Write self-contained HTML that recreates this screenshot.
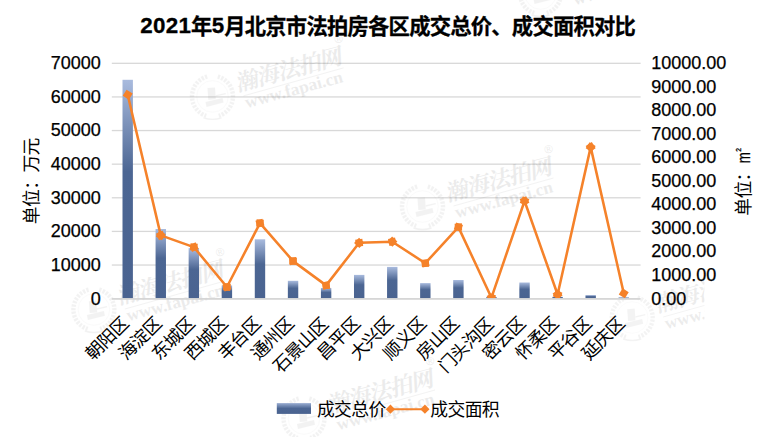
<!DOCTYPE html>
<html lang="zh-CN">
<head>
<meta charset="utf-8">
<title>2021年5月北京市法拍房各区成交总价、成交面积对比</title>
<style>
html,body{margin:0;padding:0;background:#fff;font-family:"Liberation Sans",sans-serif;}
body{width:776px;height:437px;overflow:hidden;}
svg{display:block;}
.ax{font-family:"Liberation Sans",sans-serif;font-size:18px;fill:#000;stroke:#000;stroke-width:0.25;stroke-linejoin:round;}
.cj{font-family:"Liberation Sans","Noto Sans CJK SC",sans-serif;font-size:17.8px;fill:#000;letter-spacing:-0.6px;}
.wmc{font-family:"Liberation Serif","Noto Serif CJK SC",serif;font-size:22.6px;font-weight:bold;fill:#000;letter-spacing:-0.9px;}
.wmr{font-family:"Liberation Sans",sans-serif;font-size:11.5px;fill:#000;}
.wmu{font-family:"Liberation Serif",serif;font-size:17.4px;font-weight:bold;fill:#000;}
</style>
</head>
<body>
<svg width="776" height="437" viewBox="0 0 776 437" role="img" aria-label="2021年5月北京市法拍房各区成交总价、成交面积对比">
<desc>2021年5月北京市法拍房各区成交总价、成交面积对比 — 单位:万元 / 单位:㎡ — 成交总价 成交面积 — 朝阳区 海淀区 东城区 西城区 丰台区 通州区 石景山区 昌平区 大兴区 顺义区 房山区 门头沟区 密云区 怀柔区 平谷区 延庆区</desc>
<defs>
<linearGradient id="bg" x1="0" y1="0" x2="0" y2="1">
<stop offset="0" stop-color="#A9BBDE"/><stop offset="0.42" stop-color="#4C6693"/><stop offset="1" stop-color="#4A6390"/>
</linearGradient>
<linearGradient id="bg2" x1="0" y1="0" x2="0" y2="1">
<stop offset="0" stop-color="#9AADD2"/><stop offset="0.5" stop-color="#4C6693"/><stop offset="1" stop-color="#4A6390"/>
</linearGradient>
<clipPath id="pc"><rect x="0" y="0" width="776" height="298.8"/></clipPath>
<clipPath id="wc"><rect x="0" y="0" width="704.5" height="437"/></clipPath>
</defs>
<rect width="776" height="437" fill="#fff"/>
<rect x="111.8" y="264.38" width="528.8" height="1.3" fill="#D8D8D8"/>
<rect x="111.8" y="230.76" width="528.8" height="1.3" fill="#D8D8D8"/>
<rect x="111.8" y="197.14" width="528.8" height="1.3" fill="#D8D8D8"/>
<rect x="111.8" y="163.52" width="528.8" height="1.3" fill="#D8D8D8"/>
<rect x="111.8" y="129.9" width="528.8" height="1.3" fill="#D8D8D8"/>
<rect x="111.8" y="96.28" width="528.8" height="1.3" fill="#D8D8D8"/>
<rect x="111.8" y="62.66" width="528.8" height="1.3" fill="#D8D8D8"/>
<g clip-path="url(#wc)">
<g transform="translate(212.5 96.4)" opacity="0.074"><g opacity="0.6"><path d="M-5.3 -19.8A20.5 20.5 0 0 0 -6.3 19.5" fill="none" stroke="#000" stroke-width="4.4" stroke-dasharray="2.3 1.3"/><path d="M5.3 -19.8A20.5 20.5 0 0 1 6.3 19.5" fill="none" stroke="#000" stroke-width="4.4" stroke-dasharray="2.3 1.3"/><path d="M-9 21.5Q0 24.5 9 21.5" fill="none" stroke="#000" stroke-width="1.4"/><circle r="15.8" fill="none" stroke="#000" stroke-width="0.6" opacity="0.6"/><rect x="-4.4" y="-8.7" width="7.5" height="11.8" fill="#000" transform="rotate(-4)"/><path d="M3 -1.2L13 -3.4L13.3 -2.2L3.2 0.2Z" fill="#000"/><path d="M-7 5.6L10 1.6L11 6.2L-6 10.6Z" fill="#000"/></g><g transform="translate(25.5 -5) rotate(-15) skewX(-12)"><text class="wmc" x="-0.45" y="0">瀚海法拍网</text></g><g transform="translate(123.1 -52.6) rotate(-15)"><text class="wmr" x="0" y="0">®</text></g><path d="M31 -0.5L131 -28.5" stroke="#000" stroke-width="0.6"/><g transform="translate(34.3 11.8) rotate(-15.2)"><text class="wmu" x="0" y="0">www.fapai.cn</text></g></g>
<g transform="translate(422.5 206.5)" opacity="0.074"><g opacity="0.6"><path d="M-5.3 -19.8A20.5 20.5 0 0 0 -6.3 19.5" fill="none" stroke="#000" stroke-width="4.4" stroke-dasharray="2.3 1.3"/><path d="M5.3 -19.8A20.5 20.5 0 0 1 6.3 19.5" fill="none" stroke="#000" stroke-width="4.4" stroke-dasharray="2.3 1.3"/><path d="M-9 21.5Q0 24.5 9 21.5" fill="none" stroke="#000" stroke-width="1.4"/><circle r="15.8" fill="none" stroke="#000" stroke-width="0.6" opacity="0.6"/><rect x="-4.4" y="-8.7" width="7.5" height="11.8" fill="#000" transform="rotate(-4)"/><path d="M3 -1.2L13 -3.4L13.3 -2.2L3.2 0.2Z" fill="#000"/><path d="M-7 5.6L10 1.6L11 6.2L-6 10.6Z" fill="#000"/></g><g transform="translate(25.5 -5) rotate(-15) skewX(-12)"><text class="wmc" x="-0.45" y="0">瀚海法拍网</text></g><g transform="translate(123.1 -52.6) rotate(-15)"><text class="wmr" x="0" y="0">®</text></g><path d="M31 -0.5L131 -28.5" stroke="#000" stroke-width="0.6"/><g transform="translate(34.3 11.8) rotate(-15.2)"><text class="wmu" x="0" y="0">www.fapai.cn</text></g></g>
<g transform="translate(632.2 317.5)" opacity="0.074"><g opacity="0.6"><path d="M-5.3 -19.8A20.5 20.5 0 0 0 -6.3 19.5" fill="none" stroke="#000" stroke-width="4.4" stroke-dasharray="2.3 1.3"/><path d="M5.3 -19.8A20.5 20.5 0 0 1 6.3 19.5" fill="none" stroke="#000" stroke-width="4.4" stroke-dasharray="2.3 1.3"/><path d="M-9 21.5Q0 24.5 9 21.5" fill="none" stroke="#000" stroke-width="1.4"/><circle r="15.8" fill="none" stroke="#000" stroke-width="0.6" opacity="0.6"/><rect x="-4.4" y="-8.7" width="7.5" height="11.8" fill="#000" transform="rotate(-4)"/><path d="M3 -1.2L13 -3.4L13.3 -2.2L3.2 0.2Z" fill="#000"/><path d="M-7 5.6L10 1.6L11 6.2L-6 10.6Z" fill="#000"/></g><g transform="translate(25.5 -5) rotate(-15) skewX(-12)"><text class="wmc" x="-0.45" y="0">瀚海法拍网</text></g><g transform="translate(123.1 -52.6) rotate(-15)"><text class="wmr" x="0" y="0">®</text></g><path d="M31 -0.5L131 -28.5" stroke="#000" stroke-width="0.6"/><g transform="translate(34.3 11.8) rotate(-15.2)"><text class="wmu" x="0" y="0">www.fapai.cn</text></g></g>
<g transform="translate(93.9 309.5)" opacity="0.074"><g opacity="0.6"><path d="M-5.3 -19.8A20.5 20.5 0 0 0 -6.3 19.5" fill="none" stroke="#000" stroke-width="4.4" stroke-dasharray="2.3 1.3"/><path d="M5.3 -19.8A20.5 20.5 0 0 1 6.3 19.5" fill="none" stroke="#000" stroke-width="4.4" stroke-dasharray="2.3 1.3"/><path d="M-9 21.5Q0 24.5 9 21.5" fill="none" stroke="#000" stroke-width="1.4"/><circle r="15.8" fill="none" stroke="#000" stroke-width="0.6" opacity="0.6"/><rect x="-4.4" y="-8.7" width="7.5" height="11.8" fill="#000" transform="rotate(-4)"/><path d="M3 -1.2L13 -3.4L13.3 -2.2L3.2 0.2Z" fill="#000"/><path d="M-7 5.6L10 1.6L11 6.2L-6 10.6Z" fill="#000"/></g><g transform="translate(25.5 -5) rotate(-15) skewX(-12)"><text class="wmc" x="-0.45" y="0">瀚海法拍网</text></g><g transform="translate(123.1 -52.6) rotate(-15)"><text class="wmr" x="0" y="0">®</text></g><path d="M31 -0.5L131 -28.5" stroke="#000" stroke-width="0.6"/><g transform="translate(34.3 11.8) rotate(-15.2)"><text class="wmu" x="0" y="0">www.fapai.cn</text></g></g>
<g transform="translate(304 418.5)" opacity="0.074"><g opacity="0.6"><path d="M-5.3 -19.8A20.5 20.5 0 0 0 -6.3 19.5" fill="none" stroke="#000" stroke-width="4.4" stroke-dasharray="2.3 1.3"/><path d="M5.3 -19.8A20.5 20.5 0 0 1 6.3 19.5" fill="none" stroke="#000" stroke-width="4.4" stroke-dasharray="2.3 1.3"/><path d="M-9 21.5Q0 24.5 9 21.5" fill="none" stroke="#000" stroke-width="1.4"/><circle r="15.8" fill="none" stroke="#000" stroke-width="0.6" opacity="0.6"/><rect x="-4.4" y="-8.7" width="7.5" height="11.8" fill="#000" transform="rotate(-4)"/><path d="M3 -1.2L13 -3.4L13.3 -2.2L3.2 0.2Z" fill="#000"/><path d="M-7 5.6L10 1.6L11 6.2L-6 10.6Z" fill="#000"/></g><g transform="translate(25.5 -5) rotate(-15) skewX(-12)"><text class="wmc" x="-0.45" y="0">瀚海法拍网</text></g><g transform="translate(123.1 -52.6) rotate(-15)"><text class="wmr" x="0" y="0">®</text></g><path d="M31 -0.5L131 -28.5" stroke="#000" stroke-width="0.6"/><g transform="translate(34.3 11.8) rotate(-15.2)"><text class="wmu" x="0" y="0">www.fapai.cn</text></g></g>
<g transform="translate(540.5 -6.5)" opacity="0.074"><g opacity="0.6"><path d="M-5.3 -19.8A20.5 20.5 0 0 0 -6.3 19.5" fill="none" stroke="#000" stroke-width="4.4" stroke-dasharray="2.3 1.3"/><path d="M5.3 -19.8A20.5 20.5 0 0 1 6.3 19.5" fill="none" stroke="#000" stroke-width="4.4" stroke-dasharray="2.3 1.3"/><path d="M-9 21.5Q0 24.5 9 21.5" fill="none" stroke="#000" stroke-width="1.4"/><circle r="15.8" fill="none" stroke="#000" stroke-width="0.6" opacity="0.6"/><rect x="-4.4" y="-8.7" width="7.5" height="11.8" fill="#000" transform="rotate(-4)"/><path d="M3 -1.2L13 -3.4L13.3 -2.2L3.2 0.2Z" fill="#000"/><path d="M-7 5.6L10 1.6L11 6.2L-6 10.6Z" fill="#000"/></g><g transform="translate(25.5 -5) rotate(-15) skewX(-12)"><text class="wmc" x="-0.45" y="0">瀚海法拍网</text></g><g transform="translate(123.1 -52.6) rotate(-15)"><text class="wmr" x="0" y="0">®</text></g><path d="M31 -0.5L131 -28.5" stroke="#000" stroke-width="0.6"/><g transform="translate(34.3 11.8) rotate(-15.2)"><text class="wmu" x="0" y="0">www.fapai.cn</text></g></g>
</g>
<rect x="122.5" y="79.8" width="10.4" height="218.8" fill="url(#bg)"/>
<rect x="155.57" y="229" width="10.4" height="69.6" fill="url(#bg)"/>
<rect x="188.64" y="248.1" width="10.4" height="50.5" fill="url(#bg)"/>
<rect x="221.71" y="285.4" width="10.4" height="13.2" fill="url(#bg)"/>
<rect x="254.78" y="239.3" width="10.4" height="59.3" fill="url(#bg)"/>
<rect x="287.85" y="280.8" width="10.4" height="17.8" fill="url(#bg)"/>
<rect x="320.92" y="288" width="10.4" height="10.6" fill="url(#bg)"/>
<rect x="353.99" y="274.9" width="10.4" height="23.7" fill="url(#bg)"/>
<rect x="387.06" y="266.9" width="10.4" height="31.7" fill="url(#bg)"/>
<rect x="420.13" y="283.1" width="10.4" height="15.5" fill="url(#bg)"/>
<rect x="453.2" y="280" width="10.4" height="18.6" fill="url(#bg)"/>
<rect x="486.27" y="297" width="10.4" height="1.6" fill="url(#bg)"/>
<rect x="519.34" y="282.5" width="10.4" height="16.1" fill="url(#bg)"/>
<rect x="552.41" y="296.8" width="10.4" height="1.8" fill="url(#bg)"/>
<rect x="585.48" y="295.1" width="10.4" height="3.5" fill="url(#bg)"/>
<rect x="618.55" y="297.3" width="10.4" height="1.3" fill="url(#bg)"/>
<g clip-path="url(#pc)" fill="#F5822A">
<polyline points="127.7,94.7 160.77,235.4 193.84,247.1 226.91,287 259.98,223.2 293.05,261.1 326.12,285.4 359.19,242.8 392.26,241.7 425.33,263.2 458.4,227.1 491.47,297.7 524.54,201 557.61,294.5 590.68,147.1 623.75,293.3" fill="none" stroke="#F5822A" stroke-width="2.55" stroke-linejoin="round" stroke-linecap="round"/>
<path transform="translate(127.7 94.7) rotate(76.77)" d="M0 -5.1L5.1 0L0 5.1L-5.1 0z"/>
<path transform="translate(160.77 235.4) rotate(76.77)" d="M0 -5.1L5.1 0L0 5.1L-5.1 0z"/>
<path transform="translate(160.77 235.4) rotate(19.48)" d="M0 -5.1L5.1 0L0 5.1L-5.1 0z"/>
<path transform="translate(193.84 247.1) rotate(19.48)" d="M0 -5.1L5.1 0L0 5.1L-5.1 0z"/>
<path transform="translate(193.84 247.1) rotate(50.35)" d="M0 -5.1L5.1 0L0 5.1L-5.1 0z"/>
<path transform="translate(226.91 287) rotate(50.35)" d="M0 -5.1L5.1 0L0 5.1L-5.1 0z"/>
<path transform="translate(226.91 287) rotate(-62.6)" d="M0 -5.1L5.1 0L0 5.1L-5.1 0z"/>
<path transform="translate(259.98 223.2) rotate(-62.6)" d="M0 -5.1L5.1 0L0 5.1L-5.1 0z"/>
<path transform="translate(259.98 223.2) rotate(48.89)" d="M0 -5.1L5.1 0L0 5.1L-5.1 0z"/>
<path transform="translate(293.05 261.1) rotate(48.89)" d="M0 -5.1L5.1 0L0 5.1L-5.1 0z"/>
<path transform="translate(293.05 261.1) rotate(36.31)" d="M0 -5.1L5.1 0L0 5.1L-5.1 0z"/>
<path transform="translate(326.12 285.4) rotate(36.31)" d="M0 -5.1L5.1 0L0 5.1L-5.1 0z"/>
<path transform="translate(326.12 285.4) rotate(-52.18)" d="M0 -5.1L5.1 0L0 5.1L-5.1 0z"/>
<path transform="translate(359.19 242.8) rotate(-52.18)" d="M0 -5.1L5.1 0L0 5.1L-5.1 0z"/>
<path transform="translate(359.19 242.8) rotate(-1.91)" d="M0 -5.1L5.1 0L0 5.1L-5.1 0z"/>
<path transform="translate(392.26 241.7) rotate(-1.91)" d="M0 -5.1L5.1 0L0 5.1L-5.1 0z"/>
<path transform="translate(392.26 241.7) rotate(33.03)" d="M0 -5.1L5.1 0L0 5.1L-5.1 0z"/>
<path transform="translate(425.33 263.2) rotate(33.03)" d="M0 -5.1L5.1 0L0 5.1L-5.1 0z"/>
<path transform="translate(425.33 263.2) rotate(-47.51)" d="M0 -5.1L5.1 0L0 5.1L-5.1 0z"/>
<path transform="translate(458.4 227.1) rotate(-47.51)" d="M0 -5.1L5.1 0L0 5.1L-5.1 0z"/>
<path transform="translate(458.4 227.1) rotate(64.9)" d="M0 -5.1L5.1 0L0 5.1L-5.1 0z"/>
<path transform="translate(491.47 297.7) rotate(64.9)" d="M0 -5.1L5.1 0L0 5.1L-5.1 0z"/>
<path transform="translate(491.47 297.7) rotate(-71.12)" d="M0 -5.1L5.1 0L0 5.1L-5.1 0z"/>
<path transform="translate(524.54 201) rotate(-71.12)" d="M0 -5.1L5.1 0L0 5.1L-5.1 0z"/>
<path transform="translate(524.54 201) rotate(70.52)" d="M0 -5.1L5.1 0L0 5.1L-5.1 0z"/>
<path transform="translate(557.61 294.5) rotate(70.52)" d="M0 -5.1L5.1 0L0 5.1L-5.1 0z"/>
<path transform="translate(557.61 294.5) rotate(-77.35)" d="M0 -5.1L5.1 0L0 5.1L-5.1 0z"/>
<path transform="translate(590.68 147.1) rotate(-77.35)" d="M0 -5.1L5.1 0L0 5.1L-5.1 0z"/>
<path transform="translate(590.68 147.1) rotate(77.25)" d="M0 -5.1L5.1 0L0 5.1L-5.1 0z"/>
<path transform="translate(623.75 293.3) rotate(77.25)" d="M0 -5.1L5.1 0L0 5.1L-5.1 0z"/>
</g>
<rect x="111.8" y="298.05" width="528.8" height="1.7" fill="#D4D4D4"/>
<text class="ax" x="100.7" y="304.55" text-anchor="end">0</text>
<text class="ax" x="100.7" y="270.93" text-anchor="end">10000</text>
<text class="ax" x="100.7" y="237.31" text-anchor="end">20000</text>
<text class="ax" x="100.7" y="203.69" text-anchor="end">30000</text>
<text class="ax" x="100.7" y="170.07" text-anchor="end">40000</text>
<text class="ax" x="100.7" y="136.45" text-anchor="end">50000</text>
<text class="ax" x="100.7" y="102.83" text-anchor="end">60000</text>
<text class="ax" x="100.7" y="69.21" text-anchor="end">70000</text>
<text class="ax" x="651.3" y="304.55">0.00</text>
<text class="ax" x="651.3" y="281.02">1000.00</text>
<text class="ax" x="651.3" y="257.48">2000.00</text>
<text class="ax" x="651.3" y="233.95">3000.00</text>
<text class="ax" x="651.3" y="210.41">4000.00</text>
<text class="ax" x="651.3" y="186.88">5000.00</text>
<text class="ax" x="651.3" y="163.35">6000.00</text>
<text class="ax" x="651.3" y="139.81">7000.00</text>
<text class="ax" x="651.3" y="116.28">8000.00</text>
<text class="ax" x="651.3" y="92.74">9000.00</text>
<text class="ax" x="651.3" y="69.21">10000.00</text>
<g transform="translate(38.4 180.85) rotate(-90)"><text class="cj" x="-43.3" y="0">单位：万元</text></g>
<g transform="translate(750 215.5) rotate(-90)"><text class="cj" x="-0.3" y="0">单位：</text></g>
<g transform="translate(750 163.9) rotate(-90)" fill="#000" stroke="#000" stroke-width="0.3">
<text transform="translate(0.55 0) scale(0.76 1)" x="0" y="0" font-family="'Liberation Sans',sans-serif" font-size="17.6">m</text>
<text x="12.2" y="-9.3" font-family="'Liberation Sans',sans-serif" font-size="6.8">2</text>
</g>
<g transform="translate(129.8 324.4) rotate(-45)"><text class="cj" x="-51.9" y="0">朝阳区</text></g>
<g transform="translate(162.87 324.4) rotate(-45)"><text class="cj" x="-51.9" y="0">海淀区</text></g>
<g transform="translate(195.94 324.4) rotate(-45)"><text class="cj" x="-51.9" y="0">东城区</text></g>
<g transform="translate(229.01 324.4) rotate(-45)"><text class="cj" x="-51.9" y="0">西城区</text></g>
<g transform="translate(262.08 324.4) rotate(-45)"><text class="cj" x="-51.9" y="0">丰台区</text></g>
<g transform="translate(295.15 324.4) rotate(-45)"><text class="cj" x="-51.9" y="0">通州区</text></g>
<g transform="translate(329.42 325) rotate(-45)"><text class="cj" x="-69.1" y="0">石景山区</text></g>
<g transform="translate(361.29 324.4) rotate(-45)"><text class="cj" x="-51.9" y="0">昌平区</text></g>
<g transform="translate(394.36 324.4) rotate(-45)"><text class="cj" x="-51.9" y="0">大兴区</text></g>
<g transform="translate(427.43 324.4) rotate(-45)"><text class="cj" x="-51.9" y="0">顺义区</text></g>
<g transform="translate(460.5 324.4) rotate(-45)"><text class="cj" x="-51.9" y="0">房山区</text></g>
<g transform="translate(494.77 325) rotate(-45)"><text class="cj" x="-69.1" y="0">门头沟区</text></g>
<g transform="translate(526.64 324.4) rotate(-45)"><text class="cj" x="-51.9" y="0">密云区</text></g>
<g transform="translate(559.71 324.4) rotate(-45)"><text class="cj" x="-51.9" y="0">怀柔区</text></g>
<g transform="translate(592.78 324.4) rotate(-45)"><text class="cj" x="-51.9" y="0">平谷区</text></g>
<g transform="translate(625.85 324.4) rotate(-45)"><text class="cj" x="-51.9" y="0">延庆区</text></g>
<g transform="translate(140.3 33.7)" fill="#000" stroke="#000" stroke-width="0.3" stroke-linejoin="round"><text font-family="'Liberation Sans','Noto Sans CJK SC',sans-serif" font-weight="bold" font-size="21.3"><tspan x="0" y="-0.8" font-size="22.35" letter-spacing="0.3">2021</tspan><tspan x="50.62" y="0">年</tspan><tspan x="71.55" y="-0.8" font-size="22.35">5</tspan><tspan x="83.92" y="0" letter-spacing="-0.75">月北京市法拍房各区成交总价、成交面积对比</tspan></text></g>
<rect x="276.8" y="403.1" width="34.2" height="10.8" fill="url(#bg2)"/>
<g transform="translate(317.2 416.4)"><text class="cj" x="-0.3" y="0">成交总价</text></g>
<path d="M390.4 409.2H424.9" stroke="#F5822A" stroke-width="2.1" fill="none"/>
<g fill="#F5822A">
<path transform="translate(390.4 409.2) rotate(0)" d="M0 -4.6L4.6 0L0 4.6L-4.6 0z"/>
<path transform="translate(424.9 409.2) rotate(0)" d="M0 -4.6L4.6 0L0 4.6L-4.6 0z"/>
</g>
<g transform="translate(430.6 416.4)"><text class="cj" x="-0.3" y="0">成交面积</text></g>
</svg>
</body>
</html>
